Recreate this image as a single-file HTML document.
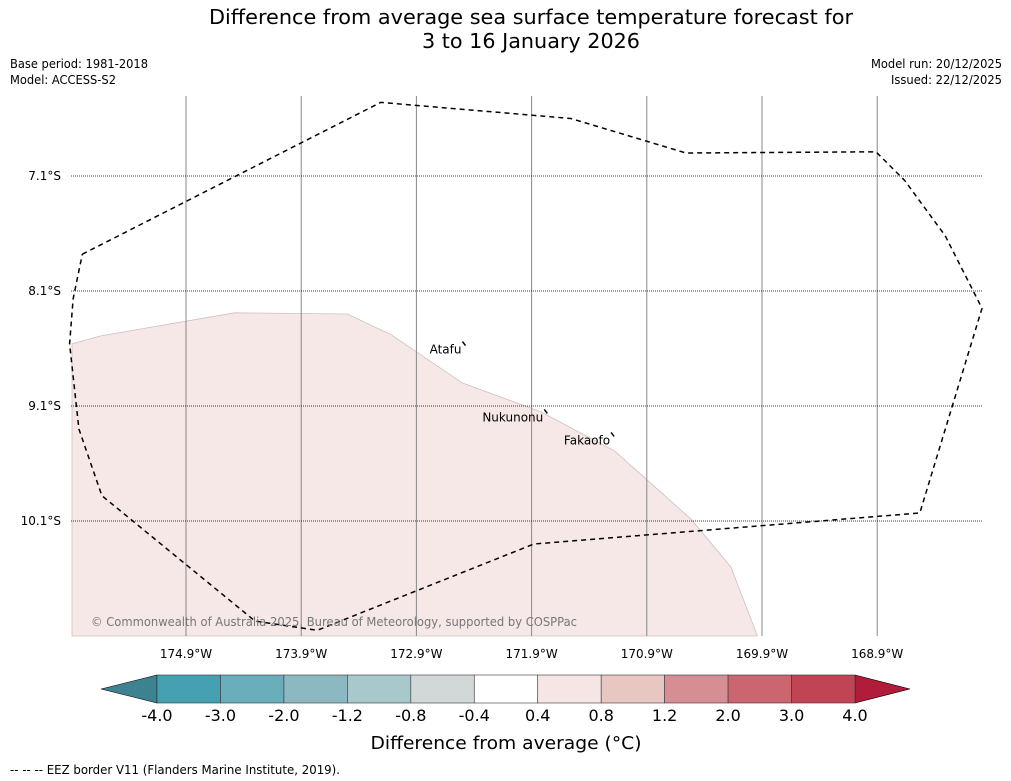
<!DOCTYPE html>
<html><head><meta charset="utf-8"><style>
html,body{margin:0;padding:0;background:#fff;}
svg{display:block;font-family:"DejaVu Sans","Liberation Sans",sans-serif;}
</style></head><body>
<svg id="chart" width="1011" height="781" viewBox="0 0 1011 781" xmlns="http://www.w3.org/2000/svg">
<text x="531" y="24" font-size="20" text-anchor="middle" textLength="644" lengthAdjust="spacingAndGlyphs">Difference from average sea surface temperature forecast for</text>
<text x="531" y="48" font-size="20" text-anchor="middle" textLength="218" lengthAdjust="spacingAndGlyphs">3 to 16 January 2026</text>
<text x="10" y="68" font-size="12" textLength="138" lengthAdjust="spacingAndGlyphs">Base period: 1981-2018</text>
<text x="10" y="84" font-size="12" textLength="106" lengthAdjust="spacingAndGlyphs">Model: ACCESS-S2</text>
<text x="1002" y="68" font-size="12" text-anchor="end" textLength="131" lengthAdjust="spacingAndGlyphs">Model run: 20/12/2025</text>
<text x="1002" y="84" font-size="12" text-anchor="end" textLength="111" lengthAdjust="spacingAndGlyphs">Issued: 22/12/2025</text>
<g id="map"></g>
<g id="cbar"></g>
<text x="506" y="749" font-size="18" text-anchor="middle" textLength="271" lengthAdjust="spacingAndGlyphs">Difference from average (°C)</text>
<text x="10" y="774" font-size="12" textLength="330" lengthAdjust="spacingAndGlyphs">-- -- -- EEZ border V11 (Flanders Marine Institute, 2019).</text>
</svg>
<script>
const lonTicks=[174.9,173.9,172.9,171.9,170.9,169.9,168.9];
const latTicks=[7.1,8.1,9.1,10.1];
const cbarBounds=[-4.0,-3.0,-2.0,-1.2,-0.8,-0.4,0.4,0.8,1.2,2.0,3.0,4.0];
const cbarColors=["#45a1b2","#6aaebb","#8cb8c2","#a9c8cc","#d1d8d7","#ffffff","#f5e6e5","#e8c6c2","#d78d94","#cb6670","#c04453"];
// anomaly region (0.4–0.8 band), lon (°W), lat (°S)
const anomLon=[175.89,175.64,174.48,173.50,173.12,172.50,171.82,171.18,170.52,170.17,169.94,175.89];
const anomLat=[8.56,8.49,8.29,8.30,8.48,8.90,9.15,9.49,10.08,10.50,11.10,11.10];
const eezLon=[175.80,173.21,171.56,170.56,168.91,168.66,168.31,167.99,168.53,171.88,173.76,174.30,175.63,175.83,175.91,175.88,175.80];
const eezLat=[7.78,6.46,6.60,6.90,6.89,7.14,7.62,8.25,10.03,10.30,11.05,10.97,9.88,9.30,8.56,8.17,7.78];
const islands=[["Atafu",172.50,8.54],["Nukunonu",171.79,9.13],["Fakaofo",171.21,9.33]];

const NS="http://www.w3.org/2000/svg";
const X0=71,X1=982,Y0=96,Y1=636;
const lonX=l=>186+(174.9-l)*115.2;
const latY=l=>176+(l-7.1)*115;
function mk(tag,attrs,parent){const e=document.createElementNS(NS,tag);for(const k in attrs)e.setAttribute(k,attrs[k]);parent.appendChild(e);return e;}
const map=document.getElementById('map');
let pts=anomLon.map((l,i)=>lonX(l).toFixed(1)+','+Math.min(Y1,latY(anomLat[i])).toFixed(1)).join(' ');
let poly=mk('polygon',{points:pts,fill:'#f5e8e7',stroke:'#cfc0bf','stroke-width':0.8},map);


lonTicks.forEach(l=>{const x=lonX(l);
 const ln=mk('line',{x1:x,x2:x,y1:Y0,y2:Y1,stroke:'#888','stroke-width':1},map);
 
 
 const t=mk('text',{x:x,y:658,'font-size':12,'text-anchor':'middle'},map);t.textContent=l.toFixed(1)+'°W';
 
 });
latTicks.forEach(l=>{const y=latY(l);
 const ln=mk('line',{x1:X0,x2:X1,y1:y,y2:y,stroke:'#000','stroke-width':0.8,'stroke-dasharray':'1,1'},map);
 
 
 const t=mk('text',{x:61,y:y+4,'font-size':12,'text-anchor':'end'},map);t.textContent=l.toFixed(1)+'°S';
 
 });
pts=eezLon.map((l,i)=>lonX(l).toFixed(1)+','+latY(eezLat[i]).toFixed(1)).join(' ');
const eez=mk('polyline',{points:pts,fill:'none',stroke:'#000','stroke-width':1.5,'stroke-dasharray':'5,4'},map);


islands.forEach(([n,lo,la])=>{const x=lonX(lo),y=latY(la);
 const m=mk('line',{x1:x,y1:y,x2:x+3,y2:y+4,stroke:'#000','stroke-width':1.5},map);
 
 
 const t=mk('text',{x:x-1,y:y+12,'font-size':12,'text-anchor':'end'},map);t.textContent=n;
 
 });
const cp=mk('text',{x:91,y:626,'font-size':12,fill:'#777',textLength:486,lengthAdjust:'spacingAndGlyphs'},map);
cp.textContent='© Commonwealth of Australia 2025, Bureau of Meteorology, supported by COSPPac';



const cb=document.getElementById('cbar');
const CX0=157,CX1=855,CY0=675,CY1=703,n=cbarColors.length,w=(CX1-CX0)/n;
const lt=mk('polygon',{points:`101,689 ${CX0},${CY0} ${CX0},${CY1}`,fill:'#3d8290',stroke:'#000','stroke-width':0.6},cb);


const rt=mk('polygon',{points:`910,689 ${CX1},${CY0} ${CX1},${CY1}`,fill:'#b01c3a',stroke:'#000','stroke-width':0.6},cb);


cbarColors.forEach((c,i)=>{const r=mk('rect',{x:CX0+i*w,y:CY0,width:w,height:CY1-CY0,fill:c,stroke:'#333','stroke-width':0.6},cb);
 
 });
cbarBounds.forEach((b,i)=>{const t=mk('text',{x:CX0+i*w,y:721,'font-size':16,'text-anchor':'middle'},cb);t.textContent=b.toFixed(1);
 
 });
</script>
</body></html>
